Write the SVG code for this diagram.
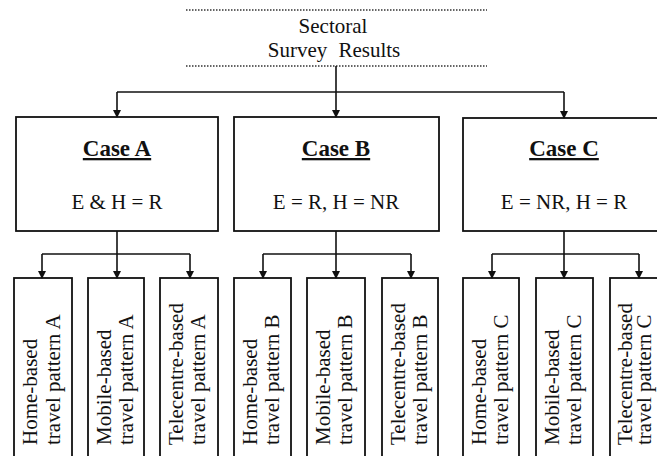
<svg xmlns="http://www.w3.org/2000/svg" width="657" height="456" viewBox="0 0 657 456">
<style>
.box{fill:#fff;stroke:#111;stroke-width:1.8}
.dot{stroke:#333;stroke-width:1.5;stroke-dasharray:1.5 1.5;fill:none}
.ln{stroke:#111;stroke-width:1.6;fill:none}
.t{font-family:"Liberation Serif","Times New Roman",serif;font-size:21px;fill:#111}
.h{font-family:"Liberation Serif","Times New Roman",serif;font-size:23px;font-weight:bold;fill:#111;text-decoration:underline}
</style>
<defs>
<marker id="ar" markerWidth="8" markerHeight="8" refX="7" refY="4" orient="auto" markerUnits="userSpaceOnUse">
<path d="M0,0 L8,4 L0,8 Z" fill="#111"/>
</marker>
</defs>
<rect width="657" height="456" fill="#fff"/>
<g id="sectoral">
<line class="dot" x1="186" y1="10" x2="487" y2="10"/>
<line class="dot" x1="186" y1="66" x2="487" y2="66"/>
<text class="t" x="333" y="33" text-anchor="middle">Sectoral</text>
<text class="t" x="334" y="57" text-anchor="middle" word-spacing="6">Survey Results</text>
</g>
<g id="caseA">
<rect class="box" x="16" y="117" width="202" height="114"/>
<text class="h" x="117" y="156" text-anchor="middle">Case A</text>
<text class="t" x="117" y="209" text-anchor="middle">E &amp; H = R</text>
</g>
<g id="caseB">
<rect class="box" x="234" y="117" width="205" height="114"/>
<text class="h" x="336" y="156" text-anchor="middle">Case B</text>
<text class="t" x="336" y="209" text-anchor="middle">E = R, H = NR</text>
</g>
<g id="caseC">
<rect class="box" x="463" y="118" width="205" height="113"/>
<text class="h" x="564" y="156" text-anchor="middle">Case C</text>
<text class="t" x="564" y="209" text-anchor="middle">E = NR, H = R</text>
</g>
<g id="homeA"><rect class="box" x="14" y="278" width="58" height="190"/>
<text class="t" transform="translate(37,445) rotate(-90)">Home-based</text>
<text class="t" transform="translate(60,445) rotate(-90)">travel pattern A</text></g>
<g id="mobileA"><rect class="box" x="88" y="278" width="56" height="190"/>
<text class="t" transform="translate(111,445) rotate(-90)">Mobile-based</text>
<text class="t" transform="translate(133,445) rotate(-90)">travel pattern A</text></g>
<g id="teleA"><rect class="box" x="160" y="278" width="58" height="190"/>
<text class="t" transform="translate(183,445) rotate(-90)">Telecentre-based</text>
<text class="t" transform="translate(205,445) rotate(-90)">travel pattern A</text></g>
<g id="homeB"><rect class="box" x="234" y="278" width="57" height="190"/>
<text class="t" transform="translate(257,445) rotate(-90)">Home-based</text>
<text class="t" transform="translate(279,445) rotate(-90)">travel pattern B</text></g>
<g id="mobileB"><rect class="box" x="307" y="278" width="58" height="190"/>
<text class="t" transform="translate(330,445) rotate(-90)">Mobile-based</text>
<text class="t" transform="translate(352,445) rotate(-90)">travel pattern B</text></g>
<g id="teleB"><rect class="box" x="382" y="278" width="56" height="190"/>
<text class="t" transform="translate(405,445) rotate(-90)">Telecentre-based</text>
<text class="t" transform="translate(427,445) rotate(-90)">travel pattern B</text></g>
<g id="homeC"><rect class="box" x="463" y="278" width="56" height="190"/>
<text class="t" transform="translate(486,445) rotate(-90)">Home-based</text>
<text class="t" transform="translate(508,445) rotate(-90)">travel pattern C</text></g>
<g id="mobileC"><rect class="box" x="536" y="278" width="57" height="190"/>
<text class="t" transform="translate(559,445) rotate(-90)">Mobile-based</text>
<text class="t" transform="translate(581,445) rotate(-90)">travel pattern C</text></g>
<g id="teleC"><rect class="box" x="610" y="278" width="58" height="190"/>
<text class="t" transform="translate(632,445) rotate(-90)">Telecentre-based</text>
<text class="t" transform="translate(651,445) rotate(-90)">travel pattern C</text></g>
<g id="connectors">
<line class="ln" x1="336" y1="66" x2="336" y2="117" marker-end="url(#ar)"/>
<line class="ln" x1="117" y1="92" x2="564" y2="92"/>
<line class="ln" x1="117" y1="92" x2="117" y2="117" marker-end="url(#ar)"/>
<line class="ln" x1="564" y1="92" x2="564" y2="118" marker-end="url(#ar)"/>
<line class="ln" x1="117" y1="231" x2="117" y2="278" marker-end="url(#ar)"/>
<line class="ln" x1="42" y1="254" x2="190" y2="254"/>
<line class="ln" x1="42" y1="254" x2="42" y2="278" marker-end="url(#ar)"/>
<line class="ln" x1="190" y1="254" x2="190" y2="278" marker-end="url(#ar)"/>
<line class="ln" x1="336" y1="231" x2="336" y2="278" marker-end="url(#ar)"/>
<line class="ln" x1="263" y1="254" x2="411" y2="254"/>
<line class="ln" x1="263" y1="254" x2="263" y2="278" marker-end="url(#ar)"/>
<line class="ln" x1="411" y1="254" x2="411" y2="278" marker-end="url(#ar)"/>
<line class="ln" x1="564" y1="231" x2="564" y2="278" marker-end="url(#ar)"/>
<line class="ln" x1="492" y1="254" x2="639" y2="254"/>
<line class="ln" x1="492" y1="254" x2="492" y2="278" marker-end="url(#ar)"/>
<line class="ln" x1="639" y1="254" x2="639" y2="278" marker-end="url(#ar)"/>
</g>
</svg>
